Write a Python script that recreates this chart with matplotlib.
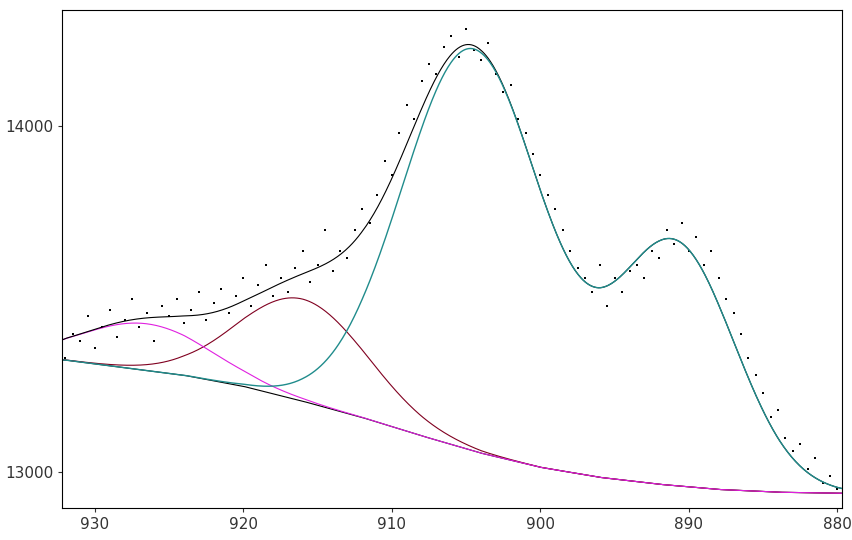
import numpy as np
import matplotlib.pyplot as plt

# measured points (binding energy, counts)
data_x = np.arange(932.0, 879.9, -0.5)
data_y = [13330, 13400, 13380, 13450, 13360, 13420, 13470, 13390, 13440, 13500,
          13420, 13460, 13380, 13480, 13450, 13500, 13430, 13470, 13520, 13440,
          13490, 13530, 13460, 13510, 13560, 13480, 13540, 13600, 13510, 13560,
          13520, 13590, 13640, 13550, 13600, 13700, 13580, 13640, 13620, 13700,
          13760, 13720, 13800, 13900, 13860, 13980, 14060, 14020, 14130, 14180,
          14150, 14230, 14260, 14200, 14280, 14220, 14190, 14240, 14150, 14100,
          14120, 14020, 13980, 13920, 13860, 13800, 13760, 13700, 13640, 13590,
          13560, 13520, 13600, 13480, 13560, 13520, 13580, 13600, 13560, 13640,
          13620, 13700, 13660, 13720, 13640, 13680, 13600, 13640, 13560, 13500,
          13460, 13400, 13330, 13280, 13230, 13160, 13180, 13100, 13060, 13080,
          13010, 13040, 12970, 12990, 12950]

# background read at a few energies
bg_x = [932, 928, 924, 920, 916, 912, 908, 904, 900, 896, 892, 888, 884, 880]
bg_y = [13324, 13302, 13280, 13248, 13205, 13158, 13105, 13055, 13014, 12985, 12965, 12950, 12942, 12939]

# fitted peaks: centre, height above background, sigma
peak_c = [926.5, 916.0, 904.5, 890.9]
peak_h = [135, 295, 1160, 690]
peak_s = [4.4, 4.4, 4.8, 4.0]

x = np.linspace(932.5, 879.5, 800)
bg = np.interp(x, bg_x[::-1], bg_y[::-1])
comps = [h * np.exp(-(x - c) ** 2 / (2 * s ** 2)) for c, h, s in zip(peak_c, peak_h, peak_s)]

fig = plt.figure(figsize=(8.53, 5.4), dpi=100)
ax = fig.add_axes([0.073, 0.059, 0.914, 0.922])
ax.plot(x, bg, color='black', lw=0.8)
ax.plot(x, bg + comps[1], color='#800020', lw=0.8)
ax.plot(x, bg + comps[0], color='#e020e0', lw=0.8)
ax.plot(x, bg + sum(comps), color='black', lw=0.8)
ax.plot(x, bg + comps[2] + comps[3], color='#208c8c', lw=1)
ax.scatter(data_x, data_y, s=3.5, color='black', marker='s', linewidths=0)

ax.set_xlim(932.2, 879.7)
ax.set_ylim(12896, 14335)
ax.set_xticks([930, 920, 910, 900, 890, 880])
ax.set_yticks([13000, 14000])
ax.tick_params(labelsize=11, length=3, colors='#333333')
plt.savefig('out.png', dpi=100)
